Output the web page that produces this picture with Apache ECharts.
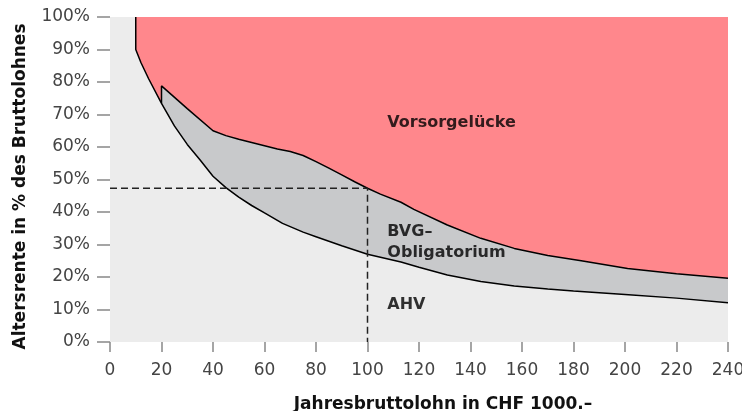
<!DOCTYPE html>
<html><head><meta charset="utf-8">
<script src="https://cdn.jsdelivr.net/npm/echarts@6/dist/echarts.min.js"></script>
<style>html,body{margin:0;padding:0;background:#fff}#c{width:742px;height:411px}</style>
</head><body><div id="c"></div>
<script>
// Data (x: Jahresbruttolohn in CHF 1000, y: % des Bruttolohnes)
const xTicks = [0,20,40,60,80,100,120,140,160,180,200,220,240];
const yTicks = [0,10,20,30,40,50,60,70,80,90,100];
const ahv = [[10,100],[10,90],[12,86],[15,81],[20,73.4],[25,66.5],[30,60.8],[35,56],[40,51],[45,47.5],[50,44.6],[55,42],[60,39.7],[67,36.5],[75,33.8],[80,32.4],[90,29.6],[100,27],[113,24.6],[120,23],[131,20.6],[144,18.6],[157,17.2],[170,16.3],[180,15.7],[200,14.6],[220,13.5],[240,12.1]];
const ahvFillLead = [[0,100]];
const bvg = [[20,73.4],[20,78.8],[30,71.8],[40,65],[45,63.5],[50,62.4],[55,61.4],[60,60.4],[65,59.4],[70,58.6],[75,57.4],[80,55.5],[85,53.5],[90,51.4],[95,49.3],[100,47.3],[105,45.5],[113,43],[118,40.8],[131,36],[144,31.9],[157,28.8],[170,26.6],[183,25],[201,22.6],[220,21],[240,19.6]];
const gap = [[10,100],[240,100]];
const refLine = [[0,47.3],[100,47.3],[100,0]];
const labels = [
  {text:'Vorsorgelücke', x:107.7, y:67.4},
  {text:'BVG–', x:107.7, y:33.8},
  {text:'Obligatorium', x:107.7, y:27.5},
  {text:'AHV', x:107.7, y:11.4}
];
const xTitle = 'Jahresbruttolohn in CHF 1000.–';
const yTitle = 'Altersrente in % des Bruttolohnes';

const chart = echarts.init(document.getElementById('c'));
const font = '"DejaVu Sans", Verdana, sans-serif';
chart.setOption({
  animation:false,
  grid:{left:110,right:14,top:17,bottom:69,show:true,backgroundColor:'#ececec',borderWidth:0,outerBoundsMode:'none',containLabel:false},
  xAxis:{type:'value',min:0,max:240,interval:20,
    axisLine:{show:false},axisTick:{show:true,length:10,lineStyle:{color:'#888',width:1.5}},
    axisLabel:{fontFamily:font,fontSize:17,color:'#444',margin:20,showMaxLabel:true,showMinLabel:true},splitLine:{show:false}},
  yAxis:{type:'value',min:0,max:100,interval:10,
    axisLine:{show:false},axisTick:{show:true,length:13,lineStyle:{color:'#888',width:1.5}},
    axisLabel:{fontFamily:font,fontSize:17,color:'#444',margin:20,formatter:v=>v+'%'},splitLine:{show:false}},
  graphic:[
    {type:'text',x:443,y:405,style:{text:xTitle,font:'bold 17px '+font,fill:'#111',align:'center',verticalAlign:'middle'}},
    {type:'text',x:21,y:186.5,rotation:Math.PI/2,style:{text:yTitle,font:'bold 17px '+font,fill:'#111',align:'center',verticalAlign:'middle'}}
  ],
  series:[
    {type:'line',data:gap,symbol:'none',lineStyle:{width:0},areaStyle:{color:'#ff878c',opacity:1},z:1},
    {type:'line',data:bvg,symbol:'none',lineStyle:{color:'#000',width:1.5},areaStyle:{color:'#c8c9cb',opacity:1},z:2},
    {type:'line',data:ahvFillLead.concat(ahv),symbol:'none',lineStyle:{width:0},areaStyle:{color:'#ececec',opacity:1},z:3},
    {type:'line',data:ahv,symbol:'none',lineStyle:{color:'#000',width:1.5},z:4},
    {type:'line',data:refLine,symbol:'none',lineStyle:{color:'#222',width:1.5,type:[7,4]},z:5},
    {type:'scatter',symbolSize:0,z:6,data:labels.map(l=>({value:[l.x,l.y],name:l.text})),
      label:{show:true,position:[0,0],align:'left',verticalAlign:'middle',formatter:p=>p.name,fontFamily:font,fontWeight:'bold',fontSize:16,color:'#000'}}
  ]
});
</script></body></html>
